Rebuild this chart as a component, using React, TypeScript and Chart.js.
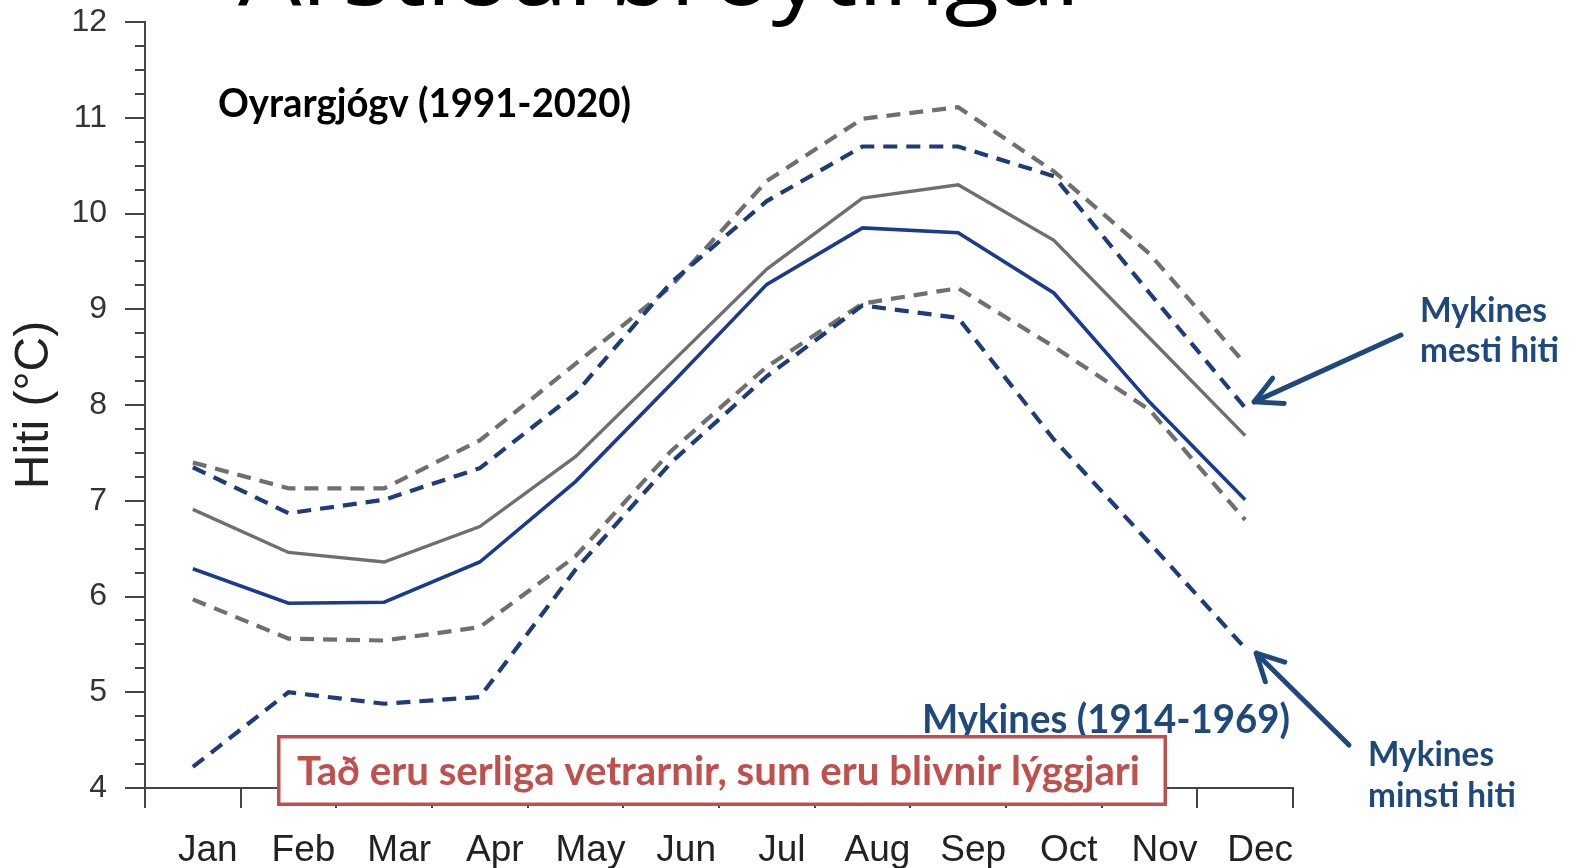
import { useEffect, useRef } from 'react';
import { Chart, registerables } from 'chart.js';

Chart.register(...registerables);

const months = ['Jan', 'Feb', 'Mar', 'Apr', 'May', 'Jun', 'Jul', 'Aug', 'Sep', 'Oct', 'Nov', 'Dec'];

// Oyrargjógv (1991-2020)
const oyrargjogvMean = [6.91, 6.46, 6.36, 6.73, 7.46, 8.44, 9.42, 10.16, 10.30, 9.72, 8.70, 7.68];
const oyrargjogvMax = [7.40, 7.13, 7.13, 7.63, 8.43, 9.24, 10.34, 10.99, 11.11, 10.44, 9.58, 8.43];
const oyrargjogvMin = [5.97, 5.56, 5.54, 5.68, 6.42, 7.52, 8.40, 9.06, 9.22, 8.61, 7.95, 6.80];

// Mykines (1914-1969)
const mykinesMean = [6.29, 5.93, 5.94, 6.36, 7.20, 8.22, 9.26, 9.85, 9.80, 9.17, 8.03, 7.01];
const mykinesMax = [7.35, 6.87, 7.01, 7.34, 8.12, 9.28, 10.13, 10.70, 10.70, 10.39, 9.17, 7.97];
const mykinesMin = [4.22, 5.00, 4.88, 4.95, 6.28, 7.40, 8.30, 9.04, 8.91, 7.64, 6.56, 5.46];

const yMin = 4;
const yMax = 12;

const GRAY = '#6f6f6f';
const BLUE_SOLID = '#1b3b8c';
const BLUE_DASH = '#1f3b7a';
const AXIS = '#444444';
const NOTE_BLUE = '#1F497D';
const NOTE_RED = '#C0504D';

function fitText(ctx: CanvasRenderingContext2D, text: string, x: number, y: number, font: string, color: string, width: number) {
  ctx.save();
  ctx.font = font;
  ctx.fillStyle = color;
  ctx.textAlign = 'left';
  ctx.textBaseline = 'alphabetic';
  const w = ctx.measureText(text).width;
  ctx.translate(x, y);
  ctx.scale(width / w, 1);
  ctx.fillText(text, 0, 0);
  ctx.restore();
}

function arrow(ctx: CanvasRenderingContext2D, x1: number, y1: number, x2: number, y2: number) {
  const ang = Math.atan2(y2 - y1, x2 - x1);
  const head = 30;
  const spread = 0.48;
  ctx.save();
  ctx.strokeStyle = NOTE_BLUE;
  ctx.lineWidth = 5;
  ctx.lineCap = 'round';
  ctx.lineJoin = 'round';
  ctx.beginPath();
  ctx.moveTo(x1, y1);
  ctx.lineTo(x2, y2);
  ctx.stroke();
  ctx.beginPath();
  ctx.moveTo(x2 - head * Math.cos(ang - spread), y2 - head * Math.sin(ang - spread));
  ctx.lineTo(x2, y2);
  ctx.lineTo(x2 - head * Math.cos(ang + spread), y2 - head * Math.sin(ang + spread));
  ctx.stroke();
  ctx.restore();
}

const overlayPlugin = {
  id: 'overlay',
  afterDraw(chart: any) {
    const ctx: CanvasRenderingContext2D = chart.ctx;
    const xs = chart.scales.x;
    const ys = chart.scales.y;

    // minor ticks on y axis
    ctx.save();
    ctx.strokeStyle = AXIS;
    ctx.lineWidth = 2;
    for (let v = yMin; v <= yMax + 1e-9; v += 0.25) {
      if (Math.abs(v - Math.round(v)) < 1e-6) continue;
      const py = Math.round(ys.getPixelForValue(v));
      ctx.beginPath();
      ctx.moveTo(ys.right - 10, py);
      ctx.lineTo(ys.right, py);
      ctx.stroke();
    }
    ctx.restore();

    // slide title (cut off at top)
    fitText(ctx, 'Árstíðarbroytingar', 238, 5, '90px "Open Sans"', '#000000', 858);

    fitText(ctx, 'Oyrargjógv (1991-2020)', 218, 117, 'bold 40px Lato', '#000000', 413);
    fitText(ctx, 'Mykines (1914-1969)', 922, 733, 'bold 40px Lato', NOTE_BLUE, 368);

    // red box
    ctx.save();
    ctx.fillStyle = '#ffffff';
    ctx.fillRect(277, 735, 890, 71);
    ctx.strokeStyle = NOTE_RED;
    ctx.lineWidth = 3.5;
    ctx.strokeRect(278.75, 736.75, 886.5, 67.5);
    ctx.restore();
    fitText(ctx, 'Tað eru serliga vetrarnir, sum eru blivnir lýggjari', 297, 785, 'bold 40px Lato', NOTE_RED, 843);

    // right notes
    fitText(ctx, 'Mykines', 1420, 322, 'bold 34px Lato', NOTE_BLUE, 127);
    fitText(ctx, 'mesti hiti', 1420, 362, 'bold 34px Lato', NOTE_BLUE, 139);
    fitText(ctx, 'Mykines', 1368, 766, 'bold 34px Lato', NOTE_BLUE, 126);
    fitText(ctx, 'minsti hiti', 1368, 807, 'bold 34px Lato', NOTE_BLUE, 148);

    const last = months.length - 1;
    const dx = xs.getPixelForValue(last);
    const maxY = ys.getPixelForValue(mykinesMax[last]);
    const minY = ys.getPixelForValue(mykinesMin[last]);
    arrow(ctx, 1401, 335, dx + 9, maxY - 6);
    arrow(ctx, 1349, 745, dx + 11, minY + 5);
  },
};

export default function App() {
  const ref = useRef<HTMLCanvasElement | null>(null);

  useEffect(() => {
    if (!ref.current) return;
    const dash = [14, 9];
    const chart = new Chart(ref.current, {
      type: 'line',
      data: {
        labels: months,
        datasets: [
          { label: 'Mykines miðal', data: mykinesMean, borderColor: BLUE_SOLID, borderWidth: 3.6 },
          { label: 'Oyrargjógv miðal', data: oyrargjogvMean, borderColor: GRAY, borderWidth: 3.4 },
          { label: 'Mykines mesti hiti', data: mykinesMax, borderColor: BLUE_DASH, borderWidth: 4.2, borderDash: dash },
          { label: 'Mykines minsti hiti', data: mykinesMin, borderColor: BLUE_DASH, borderWidth: 4.2, borderDash: dash },
          { label: 'Oyrargjógv mesti hiti', data: oyrargjogvMax, borderColor: GRAY, borderWidth: 4.2, borderDash: dash },
          { label: 'Oyrargjógv minsti hiti', data: oyrargjogvMin, borderColor: GRAY, borderWidth: 4.2, borderDash: dash },
        ].map((d) => ({ ...d, pointRadius: 0, tension: 0, fill: false })),
      },
      options: {
        animation: false,
        responsive: false,
        devicePixelRatio: 1,
        layout: { padding: { left: 0, top: 22, right: 282, bottom: 0 } },
        plugins: { legend: { display: false }, tooltip: { enabled: false }, title: { display: false } },
        scales: {
          x: {
            type: 'category',
            offset: true,
            grid: { offset: true, drawOnChartArea: false, drawTicks: true, tickLength: 20, color: AXIS, lineWidth: 2 },
            border: { display: true, color: AXIS, width: 2 },
            ticks: {
              color: '#222222',
              font: { family: '"Liberation Sans", Arial, sans-serif', size: 37 },
              padding: 21,
              labelOffset: 15,
              maxRotation: 0,
              autoSkip: false,
            },
            afterFit: (s: any) => { s.height = 80; },
          },
          y: {
            min: yMin,
            max: yMax,
            grid: { drawOnChartArea: false, drawTicks: true, tickLength: 20, color: AXIS, lineWidth: 2 },
            border: { display: true, color: AXIS, width: 2 },
            ticks: {
              stepSize: 1,
              color: '#333333',
              font: { family: '"Liberation Sans", Arial, sans-serif', size: 32 },
              padding: 18,
            },
            title: {
              display: true,
              text: 'Hiti (°C)',
              color: '#222222',
              font: { family: '"Liberation Sans", Arial, sans-serif', size: 48 },
              padding: { top: 6, bottom: 0 },
            },
            afterFit: (s: any) => { s.width = 145; s.paddingTop = 0; s.paddingBottom = 0; },
          },
        },
      },
      plugins: [overlayPlugin],
    });
    return () => chart.destroy();
  }, []);

  return (
    <div style={{ position: 'absolute', left: 0, top: 0, width: 1575, height: 868, background: '#ffffff' }}>
      <canvas ref={ref} width={1575} height={868} style={{ display: 'block', width: 1575, height: 868 }} />
    </div>
  );
}
